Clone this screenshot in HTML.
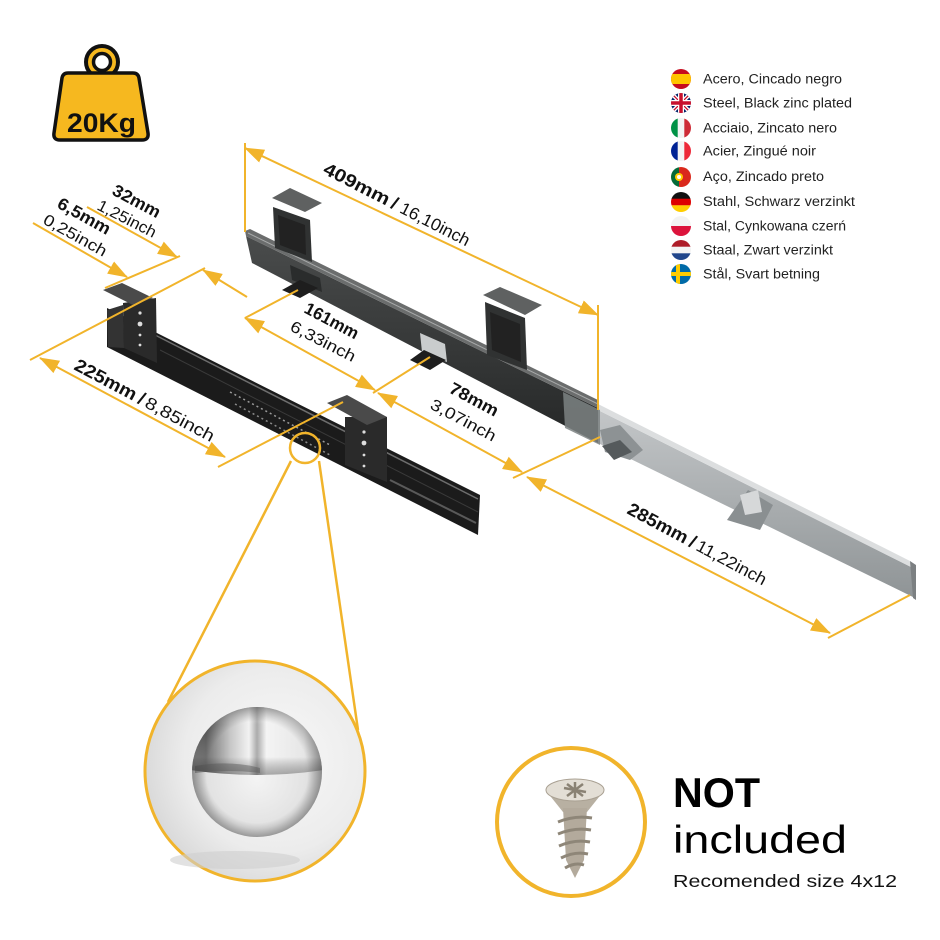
<!DOCTYPE html>
<html><head><meta charset="utf-8"><style>
html,body{margin:0;padding:0;background:#fff;}
svg{display:block;}
text{font-family:"Liberation Sans",Arial,sans-serif;}
</style></head><body>
<svg width="940" height="940" viewBox="0 0 940 940" xmlns="http://www.w3.org/2000/svg">
<defs>
 <marker id="a" markerUnits="userSpaceOnUse" markerWidth="20" markerHeight="14" refX="19" refY="7" orient="auto-start-reverse"><path d="M0,0 L20,7 L0,14 Z" fill="#f1b42b"/></marker>
 <clipPath id="fc"><circle cx="0" cy="0" r="10"/></clipPath>
 <clipPath id="bc"><circle cx="257" cy="772" r="65"/></clipPath>
 <radialGradient id="bg" cx="0.6" cy="0.45" r="0.6"><stop offset="0" stop-color="#f8f8f8"/><stop offset="0.7" stop-color="#ececec"/><stop offset="1" stop-color="#dadada"/></radialGradient>
 <radialGradient id="ballLow" cx="0.5" cy="0.55" r="0.55"><stop offset="0" stop-color="#f4f4f4"/><stop offset="0.7" stop-color="#e2e2e2"/><stop offset="1" stop-color="#a9a9a9"/></radialGradient>
 <linearGradient id="cap" x1="0" y1="0" x2="1" y2="0">
  <stop offset="0" stop-color="#a0a0a0"/><stop offset="0.12" stop-color="#727272"/><stop offset="0.3" stop-color="#c6c6c6"/>
  <stop offset="0.44" stop-color="#f2f2f2"/><stop offset="0.5" stop-color="#ababab"/><stop offset="0.57" stop-color="#f4f4f4"/>
  <stop offset="0.85" stop-color="#e6e6e6"/><stop offset="1" stop-color="#b2b2b2"/></linearGradient>
 <linearGradient id="capShade" x1="0" y1="0" x2="0" y2="1"><stop offset="0" stop-color="#777" stop-opacity="0.45"/><stop offset="0.3" stop-color="#fff" stop-opacity="0"/><stop offset="0.75" stop-color="#000" stop-opacity="0"/><stop offset="1" stop-color="#333" stop-opacity="0.4"/></linearGradient>
 <radialGradient id="ballEdge" cx="0.5" cy="0.5" r="0.5"><stop offset="0.78" stop-color="#000" stop-opacity="0"/><stop offset="1" stop-color="#000" stop-opacity="0.25"/></radialGradient>
 <linearGradient id="silver" x1="0" y1="0" x2="0" y2="1"><stop offset="0" stop-color="#c3c6c8"/><stop offset="1" stop-color="#8f9496"/></linearGradient>
 <linearGradient id="dark" x1="0" y1="0" x2="0" y2="1"><stop offset="0" stop-color="#4a4c4c"/><stop offset="1" stop-color="#252727"/></linearGradient>
</defs>

<!-- Weight icon -->
<circle cx="102" cy="62" r="16" fill="#f6b81f" stroke="#111" stroke-width="4"/>
<circle cx="102" cy="62" r="8.5" fill="#fff" stroke="#111" stroke-width="3.5"/>
<path d="M68,73 L133,73 Q138,73 139,78 L148,133 Q149,140 142,140 L60,140 Q53,140 54,133 L62,78 Q63,73 68,73 Z" fill="#f6b81f" stroke="#111" stroke-width="3.5" stroke-linejoin="round"/>
<text x="67" y="132" font-size="27" font-weight="bold" fill="#111" textLength="69" lengthAdjust="spacingAndGlyphs">20Kg</text>

<!-- Legend flags -->
<g transform="translate(681,79)"><g clip-path="url(#fc)"><rect x="-10" y="-10" width="20" height="20" fill="#c60b1e"/><rect x="-10" y="-5" width="20" height="10" fill="#ffc400"/></g></g>
<g transform="translate(681,103)"><g clip-path="url(#fc)"><rect x="-10" y="-10" width="20" height="20" fill="#012169"/><path d="M-10,-10 L10,10 M10,-10 L-10,10" stroke="#fff" stroke-width="4"/><path d="M-10,-10 L10,10 M10,-10 L-10,10" stroke="#c8102e" stroke-width="1.3"/><path d="M0,-10 V10 M-10,0 H10" stroke="#fff" stroke-width="6"/><path d="M0,-10 V10 M-10,0 H10" stroke="#c8102e" stroke-width="3.5"/></g></g>
<g transform="translate(681,128)"><g clip-path="url(#fc)"><rect x="-10" y="-10" width="7" height="20" fill="#009246"/><rect x="-3.3" y="-10" width="6.7" height="20" fill="#f4f4f4"/><rect x="3.3" y="-10" width="7" height="20" fill="#ce2b37"/></g></g>
<g transform="translate(681,151)"><g clip-path="url(#fc)"><rect x="-10" y="-10" width="7" height="20" fill="#002395"/><rect x="-3.3" y="-10" width="6.7" height="20" fill="#f4f4f4"/><rect x="3.3" y="-10" width="7" height="20" fill="#ed2939"/></g></g>
<g transform="translate(681,177)"><g clip-path="url(#fc)"><rect x="-10" y="-10" width="8" height="20" fill="#046a38"/><rect x="-2" y="-10" width="12" height="20" fill="#da291c"/><circle cx="-2" cy="0" r="4" fill="#ffcc00"/><circle cx="-2" cy="0" r="2" fill="#fff"/></g></g>
<g transform="translate(681,202)"><g clip-path="url(#fc)"><rect x="-10" y="-10" width="20" height="7" fill="#111"/><rect x="-10" y="-3.3" width="20" height="6.7" fill="#dd0000"/><rect x="-10" y="3.3" width="20" height="7" fill="#ffce00"/></g></g>
<g transform="translate(681,226)"><g clip-path="url(#fc)"><rect x="-10" y="-10" width="20" height="10" fill="#f3f3f3"/><rect x="-10" y="0" width="20" height="10" fill="#dc143c"/></g></g>
<g transform="translate(681,250)"><g clip-path="url(#fc)"><rect x="-10" y="-10" width="20" height="7" fill="#ae1c28"/><rect x="-10" y="-3.3" width="20" height="6.7" fill="#f4f4f4"/><rect x="-10" y="3.3" width="20" height="7" fill="#21468b"/></g></g>
<g transform="translate(681,274)"><g clip-path="url(#fc)"><rect x="-10" y="-10" width="20" height="20" fill="#006aa7"/><rect x="-5" y="-10" width="4" height="20" fill="#fecc00"/><rect x="-10" y="-2" width="20" height="4" fill="#fecc00"/></g></g>

<g font-size="13.5" fill="#222">
<text x="703" y="83.5" textLength="139" lengthAdjust="spacingAndGlyphs">Acero, Cincado negro</text>
<text x="703" y="107.5" textLength="149" lengthAdjust="spacingAndGlyphs">Steel, Black zinc plated</text>
<text x="703" y="132.5" textLength="134" lengthAdjust="spacingAndGlyphs">Acciaio, Zincato nero</text>
<text x="703" y="155.5" textLength="113" lengthAdjust="spacingAndGlyphs">Acier, Zingué noir</text>
<text x="703" y="181" textLength="121" lengthAdjust="spacingAndGlyphs">Aço, Zincado preto</text>
<text x="703" y="206" textLength="152" lengthAdjust="spacingAndGlyphs">Stahl, Schwarz  verzinkt</text>
<text x="703" y="230.5" textLength="143" lengthAdjust="spacingAndGlyphs">Stal, Cynkowana czerń</text>
<text x="703" y="254.5" textLength="130" lengthAdjust="spacingAndGlyphs">Staal, Zwart verzinkt</text>
<text x="703" y="278.5" textLength="117" lengthAdjust="spacingAndGlyphs">Stål, Svart betning</text>
</g>

<!-- Upper rail -->
<polygon points="598,410 913,568 915,598 598,443" fill="url(#silver)"/>
<polygon points="598,404 910,561 913,568 598,410" fill="#dcdedf"/>
<polygon points="910,561 916,565 916,600 913,598" fill="#7c8082"/>
<polygon points="600,430 620,425 643,450 630,460 605,452" fill="#8d9294"/>
<polygon points="602,446 620,440 632,452 614,460" fill="#555a5c"/>
<polygon points="727,520 748,490 773,505 760,530" fill="#8a8f91"/>
<polygon points="740,495 758,490 762,512 745,515" fill="#d6d8d9"/>
<polygon points="246,236 598,408 598,443 252,263" fill="url(#dark)"/>
<polygon points="245,231 250,229 598,400 598,408 246,236" fill="#6b6d6d"/>
<line x1="248" y1="233" x2="598" y2="404" stroke="#a8aaaa" stroke-width="1"/>
<polygon points="563,392 600,410 600,445 565,428" fill="#7d8283" opacity="0.85"/>
<polygon points="273,207 310,220 312,262 275,248" fill="#303232"/>
<polygon points="278,215 305,225 306,255 280,245" fill="#222"/>
<polygon points="272,198 290,188 322,203 305,212" fill="#5f6161"/>
<polygon points="485,302 525,318 527,370 487,355" fill="#303232"/>
<polygon points="490,312 520,324 521,362 492,350" fill="#222"/>
<polygon points="483,295 500,287 542,305 525,315" fill="#5f6161"/>
<polygon points="290,265 320,278 322,292 292,280" fill="#2a2c2c"/>
<polygon points="282,290 300,280 318,288 300,298" fill="#1e1e1e"/>
<polygon points="420,333 445,344 447,362 422,352" fill="#c9cccd"/>
<polygon points="410,360 424,350 446,360 430,370" fill="#1e1e1e"/>

<!-- Lower rail -->
<polygon points="107,308 480,495 478,535 107,347" fill="#1b1b1b"/>
<line x1="155" y1="335" x2="478" y2="499" stroke="#6d6d6d" stroke-width="1.5"/>
<line x1="160" y1="350" x2="478" y2="512" stroke="#3a3a3a" stroke-width="1"/>
<line x1="230" y1="392" x2="330" y2="445" stroke="#9a9a9a" stroke-width="1.5" stroke-dasharray="2,3"/>
<line x1="235" y1="404" x2="330" y2="455" stroke="#8a8a8a" stroke-width="1.5" stroke-dasharray="2,3"/>
<line x1="390" y1="480" x2="476" y2="523" stroke="#5a5a5a" stroke-width="2"/>
<polygon points="107,310 123,305 124,348 108,347" fill="#333"/>
<polygon points="123,303 156,298 157,363 124,348" fill="#2a2a2a"/>
<polygon points="103,290 122,283 153,298 133,305" fill="#4a4a4a"/>
<circle cx="140" cy="313" r="1.6" fill="#ddd"/><circle cx="140" cy="324" r="2.4" fill="#ddd"/><circle cx="140" cy="335" r="1.4" fill="#ddd"/><circle cx="140" cy="345" r="1.4" fill="#ddd"/>
<polygon points="345,417 387,417 387,482 345,465" fill="#2a2a2a"/>
<polygon points="327,403 347,395 387,417 367,425" fill="#4a4a4a"/>
<circle cx="364" cy="432" r="1.6" fill="#ddd"/><circle cx="364" cy="443" r="2.4" fill="#ddd"/><circle cx="364" cy="455" r="1.4" fill="#ddd"/><circle cx="364" cy="466" r="1.4" fill="#ddd"/>

<!-- dimension lines -->
<g stroke="#f1b42b" stroke-width="2" fill="none">
 <line x1="245" y1="148" x2="598" y2="315" marker-start="url(#a)" marker-end="url(#a)"/>
 <line x1="40" y1="358" x2="225" y2="457" marker-start="url(#a)" marker-end="url(#a)"/>
 <line x1="245" y1="318" x2="375" y2="390" marker-start="url(#a)" marker-end="url(#a)"/>
 <line x1="378" y1="393" x2="522" y2="472" marker-start="url(#a)" marker-end="url(#a)"/>
 <line x1="527" y1="477" x2="830" y2="633" marker-start="url(#a)" marker-end="url(#a)"/>
 <line x1="87" y1="207" x2="177" y2="257" marker-end="url(#a)"/>
 <line x1="247" y1="297" x2="203" y2="270" marker-end="url(#a)"/>
 <line x1="33" y1="223" x2="127" y2="277" marker-end="url(#a)"/>
 <line x1="245" y1="143" x2="245" y2="232"/>
 <line x1="598" y1="305" x2="598" y2="410"/>
 <line x1="30" y1="360" x2="205" y2="268"/>
 <line x1="105" y1="288" x2="180" y2="256"/>
 <line x1="218" y1="467" x2="343" y2="402"/>
 <line x1="245" y1="318" x2="298" y2="290"/>
 <line x1="373" y1="393" x2="430" y2="357"/>
 <line x1="513" y1="478" x2="600" y2="437"/>
 <line x1="828" y1="638" x2="910" y2="595"/>
</g>

<!-- dimension labels -->
<g fill="#111">
 <g transform="translate(322,173) rotate(27)">
  <text x="0" y="0" font-size="18" font-weight="bold" textLength="72" lengthAdjust="spacingAndGlyphs">409mm</text>
  <text x="76" y="0" font-size="18" font-weight="bold">/</text>
  <text x="86" y="0" font-size="17" textLength="76" lengthAdjust="spacingAndGlyphs">16,10inch</text>
 </g>
 <g transform="translate(111,194) rotate(28)"><text font-size="17" font-weight="bold" textLength="52" lengthAdjust="spacingAndGlyphs">32mm</text></g>
 <g transform="translate(96,209) rotate(27)"><text font-size="16" textLength="64" lengthAdjust="spacingAndGlyphs">1,25inch</text></g>
 <g transform="translate(56,207) rotate(29)"><text font-size="17" font-weight="bold" textLength="58" lengthAdjust="spacingAndGlyphs">6,5mm</text></g>
 <g transform="translate(42,223) rotate(29)"><text font-size="16" textLength="70" lengthAdjust="spacingAndGlyphs">0,25inch</text></g>
 <g transform="translate(303,312) rotate(28)"><text font-size="17" font-weight="bold" textLength="59" lengthAdjust="spacingAndGlyphs">161mm</text></g>
 <g transform="translate(289,330) rotate(27)"><text font-size="16" textLength="71" lengthAdjust="spacingAndGlyphs">6,33inch</text></g>
 <g transform="translate(448,392) rotate(28)"><text font-size="17" font-weight="bold" textLength="53" lengthAdjust="spacingAndGlyphs">78mm</text></g>
 <g transform="translate(429,408) rotate(28)"><text font-size="16" textLength="72" lengthAdjust="spacingAndGlyphs">3,07inch</text></g>
 <g transform="translate(73,369) rotate(28)">
  <text x="0" y="0" font-size="18" font-weight="bold" textLength="68" lengthAdjust="spacingAndGlyphs">225mm</text>
  <text x="72" y="0" font-size="18" font-weight="bold">/</text>
  <text x="80" y="0" font-size="17" textLength="76" lengthAdjust="spacingAndGlyphs">8,85inch</text>
 </g>
 <g transform="translate(626,513) rotate(28)">
  <text x="0" y="0" font-size="18" font-weight="bold" textLength="66" lengthAdjust="spacingAndGlyphs">285mm</text>
  <text x="70" y="0" font-size="18" font-weight="bold">/</text>
  <text x="78" y="0" font-size="17" textLength="77" lengthAdjust="spacingAndGlyphs">11,22inch</text>
 </g>
</g>

<!-- magnifier -->
<g stroke="#f1b42b" stroke-width="2.5" fill="none">
 <circle cx="305" cy="448" r="15"/>
 <line x1="291" y1="461" x2="168" y2="702"/>
 <line x1="319" y1="461" x2="358" y2="730"/>
</g>
<circle cx="255" cy="771" r="110" fill="url(#bg)" stroke="#f1b42b" stroke-width="3"/>
<ellipse cx="235" cy="860" rx="65" ry="9" fill="#cfcfcf" opacity="0.6"/>
<circle cx="257" cy="772" r="65" fill="url(#ballLow)"/>
<g clip-path="url(#bc)">
 <path d="M190,770 A67,67 0 0 1 324,770 Q257,780 190,770 Z" fill="url(#cap)"/>
 <path d="M190,770 A67,67 0 0 1 324,770 Q257,780 190,770 Z" fill="url(#capShade)"/>
 <path d="M195,766 Q230,760 260,768 L260,773 Q230,769 195,773 Z" fill="#555" opacity="0.45"/>
</g>
<circle cx="257" cy="772" r="65" fill="url(#ballEdge)"/>

<!-- screw -->
<circle cx="571" cy="822" r="74" fill="#fff" stroke="#f1b42b" stroke-width="4"/>
<polygon points="547,792 603,792 587,812 563,812" fill="#b8b0a2"/>
<polygon points="563,808 587,808 584,860 575,878 566,860" fill="#b3aa9c"/>
<g stroke="#8e8678" stroke-width="3" fill="none">
 <path d="M558,822 Q575,815 592,818"/><path d="M558,834 Q575,827 591,830"/><path d="M559,846 Q575,839 590,842"/><path d="M561,858 Q575,851 588,854"/><path d="M565,868 Q575,862 584,865"/>
</g>
<ellipse cx="575" cy="790" rx="29" ry="11" fill="#e3ded5" stroke="#a9a092" stroke-width="1"/>
<path d="M564,788 L586,792 M575,782 L575,798 M567,784 L583,796 M583,784 L567,796" stroke="#8a8274" stroke-width="2.5"/>

<!-- NOT included -->
<text x="673" y="807" font-size="42" font-weight="bold" fill="#000" textLength="87" lengthAdjust="spacingAndGlyphs">NOT</text>
<text x="673" y="853" font-size="39" fill="#000" textLength="174" lengthAdjust="spacingAndGlyphs">included</text>
<text x="673" y="887" font-size="17.5" fill="#111" textLength="224" lengthAdjust="spacingAndGlyphs">Recomended size 4x12</text>
</svg>
</body></html>
